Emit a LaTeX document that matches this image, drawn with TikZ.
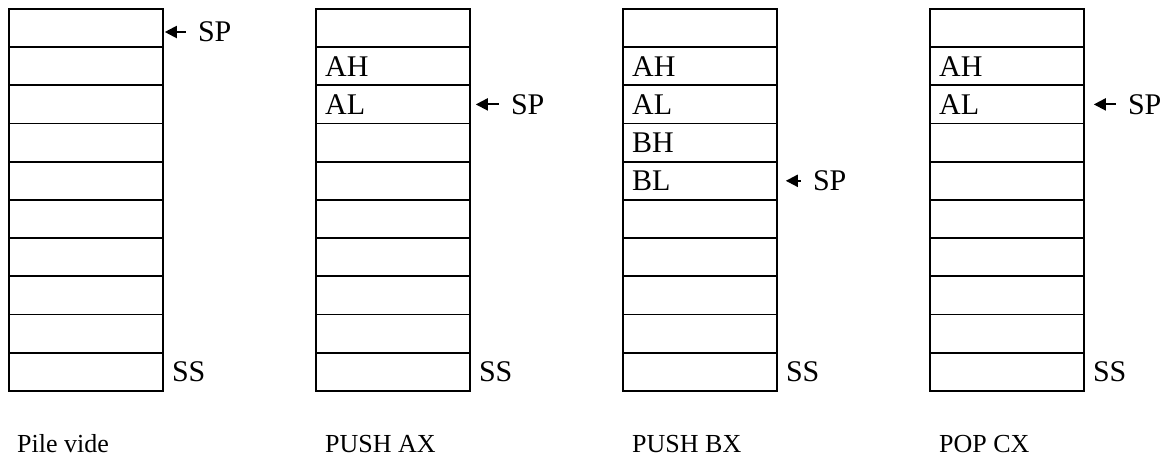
\documentclass[tikz,border=0pt]{standalone}
\usepackage{fontspec}
\setmainfont{Liberation Serif}
\usetikzlibrary{positioning,arrows.meta}

\tikzset{
  cell/.style={draw, rectangle, line width=1.8pt, minimum width=154pt,
    minimum height=38.2pt, inner sep=0pt, anchor=north west},
  entry/.style={anchor=west, inner sep=0pt, xshift=10pt,
    font=\fontsize{30}{32}\selectfont},
  splabel/.style={anchor=west, inner xsep=12pt, inner ysep=0pt,
    font=\fontsize{30}{32}\selectfont},
  sslabel/.style={inner sep=0pt, font=\fontsize{30}{32}\selectfont},
  caption/.style={anchor=base west, inner sep=0pt,
    font=\fontsize{26}{28}\selectfont},
  sparrow/.style={line width=2pt, -{Triangle[length=12pt,width=12pt]}}
}

\begin{document}
\begin{tikzpicture}[x=1pt, y=-1pt]
  \useasboundingbox (0,0) rectangle (1167,459);

  % four stacks of ten cells
  \foreach \s in {1,...,4}
    \foreach \i in {1,...,10}
      \node[cell] (s\s-\i) at ({8+307*(\s-1)}, {8+38.2*(\i-1)}) {};

  % contents
  \node[entry] (ah2) at (s2-2.west) {AH};
  \node[entry] (al2) at (s2-3.west) {AL};
  \node[entry] (ah3) at (s3-2.west) {AH};
  \node[entry] (al3) at (s3-3.west) {AL};
  \node[entry] (bh3) at (s3-4.west) {BH};
  \node[entry] (bl3) at (s3-5.west) {BL};
  \node[entry] (ah4) at (s4-2.west) {AH};
  \node[entry] (al4) at (s4-3.west) {AL};

  % stack pointer
  \coordinate (tip1) at ([xshift=1pt,yshift=-4pt]s1-1.east);
  \coordinate (tip2) at ([xshift=5pt]s2-3.east);
  \coordinate (tip3) at ([xshift=8pt]s3-5.east);
  \coordinate (tip4) at ([xshift=9pt]s4-3.east);
  \node[splabel, right=21pt of tip1] (sp1) {SP};
  \node[splabel, right=23pt of tip2] (sp2) {SP};
  \node[splabel, right=15pt of tip3] (sp3) {SP};
  \node[splabel, right=22pt of tip4] (sp4) {SP};
  \foreach \s in {1,...,4}
    \draw[sparrow] (sp\s.west) -- (tip\s);

  % stack segment
  \foreach \s in {1,...,4}
    \node[sslabel, right=8pt of s\s-10] (ss\s) {SS};

  % operations
  \node[caption] (op1) at (17,452) {Pile vide};
  \node[caption] (op2) at (325,452) {PUSH AX};
  \node[caption] (op3) at (632,452) {PUSH BX};
  \node[caption] (op4) at (939,452) {POP CX};
\end{tikzpicture}
\end{document}
